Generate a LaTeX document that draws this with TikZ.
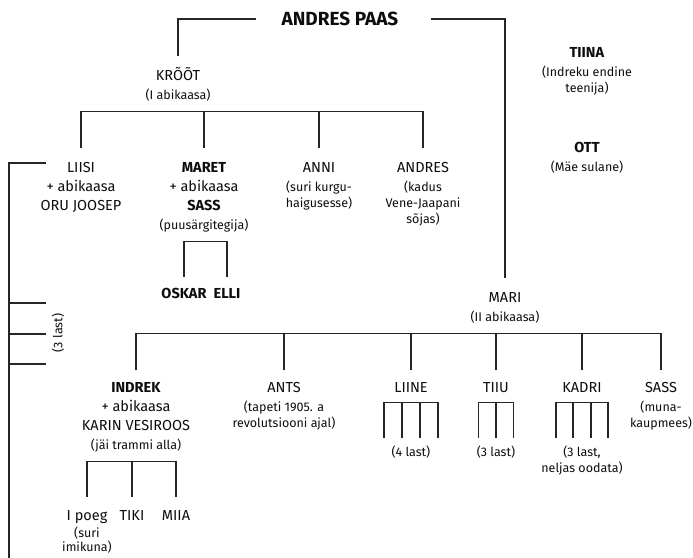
\documentclass[tikz,border=0pt]{standalone}
\usepackage{fontspec}
\setmainfont{Fira Sans}
\newcommand{\namesize}{\fontsize{14.5}{15.2}\selectfont}
\newcommand{\notesize}{\fontsize{12.5}{13}\selectfont}
\renewcommand{\arraystretch}{1.25}
\tikzset{
  person/.style={inner sep=0pt, anchor=base, font=\namesize, text=black!95},
  kids/.style={inner sep=0pt, anchor=base, font=\notesize, text=black!95},
  kin/.style={draw=black!85, line width=1.1pt},
}
\begin{document}
\begin{tikzpicture}[x=1pt,y=-1pt]
\path[use as bounding box, fill=white] (0,0) rectangle (693,557);

\node (paas) [person, anchor=center, font=\fontsize{19}{21}\selectfont\bfseries] at (340,19) {ANDRES PAAS};

\node (kroot) [person] at (178,80) {
\begin{tabular}[t]{c}
 KRÕÕT \\
 \notesize (I abikaasa)
\end{tabular}
};
\node (tiina) [person] at (587,57) {
\begin{tabular}[t]{c}
 \textbf{TIINA} \\
 \notesize (Indreku endine \\[-3pt]
 \notesize teenija)
\end{tabular}
};
\node (ott) [person] at (587,152) {
\begin{tabular}[t]{c}
 \textbf{OTT} \\
 \notesize (Mäe sulane)
\end{tabular}
};

\node (liisi) [person] at (81,172) {
\begin{tabular}[t]{c}
 LIISI \\
 + abikaasa \\
 ORU JOOSEP
\end{tabular}
};
\node (maret) [person] at (204,172) {
\begin{tabular}[t]{c}
 \textbf{MARET} \\
 + abikaasa \\
 \textbf{SASS} \\
 \notesize (puusärgitegija)
\end{tabular}
};
\node (anni) [person] at (319,172) {
\begin{tabular}[t]{c}
 ANNI \\
 \notesize (suri kurgu- \\[-3pt]
 \notesize haigusesse)
\end{tabular}
};
\node (andres) [person] at (423,172) {
\begin{tabular}[t]{c}
 ANDRES \\
 \notesize (kadus \\[-3pt]
 \notesize Vene-Jaapani \\[-3pt]
 \notesize sõjas)
\end{tabular}
};

\node (oskar) [person] at (184,298) {\begin{tabular}[t]{c} \textbf{OSKAR} \end{tabular}};
\node (elli) [person] at (227,298) {\begin{tabular}[t]{c} \textbf{ELLI} \end{tabular}};
\node (liisikids) [kids, anchor=center, rotate=90] at (58,333) {(3 last)};

\node (mari) [person] at (505,302) {
\begin{tabular}[t]{c}
 MARI \\
 \notesize (II abikaasa)
\end{tabular}
};

\node (indrek) [person] at (136,392) {
\begin{tabular}[t]{c}
 \textbf{INDREK} \\
 + abikaasa \\
 KARIN VESIROOS \\
 \notesize (jäi trammi alla)
\end{tabular}
};
\node (ants) [person] at (284,392) {
\begin{tabular}[t]{c}
 ANTS \\
 \notesize (tapeti 1905. a \\[-3pt]
 \notesize revolutsiooni ajal)
\end{tabular}
};
\node (liine) [person] at (411,392) {\begin{tabular}[t]{c} LIINE \end{tabular}};
\node (tiiu) [person] at (496,392) {\begin{tabular}[t]{c} TIIU \end{tabular}};
\node (kadri) [person] at (582,392) {\begin{tabular}[t]{c} KADRI \end{tabular}};
\node (sass) [person] at (661,392) {
\begin{tabular}[t]{c}
 SASS \\
 \notesize (muna- \\[-3pt]
 \notesize kaupmees)
\end{tabular}
};

\node (liinekids) [kids] at (411,456) {\begin{tabular}[t]{c} (4 last) \end{tabular}};
\node (tiiukids) [kids] at (496,456) {\begin{tabular}[t]{c} (3 last) \end{tabular}};
\node (kadrikids) [kids] at (582,456) {
\begin{tabular}[t]{c}
 (3 last, \\
 neljas oodata)
\end{tabular}
};

\node (poeg) [person] at (87,520) {
\begin{tabular}[t]{c}
 I poeg \\[-2pt]
 \notesize (suri \\[-5pt]
 \notesize imikuna)
\end{tabular}
};
\node (tiki) [person] at (132,520) {\begin{tabular}[t]{c} TIKI \end{tabular}};
\node (miia) [person] at (176,520) {\begin{tabular}[t]{c} MIIA \end{tabular}};

\coordinate (krootbar) at ([yshift=-7pt]kroot.south);
\coordinate (maretbar) at ([yshift=-7pt]maret.south);
\coordinate (maribar) at ([yshift=-7pt]mari.south);
\coordinate (indrekbar) at ([yshift=-6.5pt]indrek.south);
\coordinate (liinebar) at ([yshift=-4.5pt]liine.south);
\coordinate (tiiubar) at ([yshift=-4.5pt]tiiu.south);
\coordinate (kadribar) at ([yshift=-4.5pt]kadri.south);
\coordinate (liisiend) at (9,560);

\draw[kin] ([xshift=-84pt]paas.center) -| ([yshift=11pt]kroot.north);
\draw[kin] ([xshift=91pt]paas.center) -| ([yshift=11pt]mari.north);

\draw[kin] ([yshift=11pt]liisi.north) |- (krootbar -| andres.north) -- ([yshift=11pt]andres.north);
\foreach \c in {maret,anni}
  \draw[kin] (krootbar -| \c.north) -- ([yshift=11pt]\c.north);

\draw[kin] ([xshift=-35pt,yshift=9pt]liisi.base) -| (liisiend);
\foreach \y in {303,334,364}
  \draw[kin] (liisiend |- 0,\y) -- +(37,0);

\draw[kin] ([yshift=8pt]oskar.north) |- (maretbar -| elli.north) -- ([yshift=8pt]elli.north);

\draw[kin] ([yshift=8.5pt]indrek.north) |- (maribar -| sass.north) -- ([yshift=8.5pt]sass.north);
\foreach \c in {ants,liine,tiiu,kadri}
  \draw[kin] (maribar -| \c.north) -- ([yshift=8.5pt]\c.north);

\draw[kin] ([yshift=10pt]poeg.north) |- (indrekbar -| miia.north) -- ([yshift=10pt]miia.north);
\draw[kin] (indrekbar -| tiki.north) -- ([yshift=10pt]tiki.north);

\draw[kin] ([xshift=-27pt,yshift=6.5pt]liinekids.north) |- (liinebar) -| ([xshift=27pt,yshift=6.5pt]liinekids.north);
\foreach \dx in {-9,9}
  \draw[kin] ([xshift=\dx pt]liinebar) -- ([xshift=\dx pt,yshift=6.5pt]liinekids.north);

\draw[kin] ([xshift=-17.5pt,yshift=6.5pt]tiiukids.north) |- (tiiubar) -| ([xshift=17.5pt,yshift=6.5pt]tiiukids.north);
\draw[kin] (tiiubar) -- ([yshift=6.5pt]tiiukids.north);

\draw[kin] ([xshift=-26pt,yshift=6.5pt]kadrikids.north) |- (kadribar) -| ([xshift=26pt,yshift=6.5pt]kadrikids.north);
\foreach \dx in {-9,9}
  \draw[kin] ([xshift=\dx pt]kadribar) -- ([xshift=\dx pt,yshift=6.5pt]kadrikids.north);
\end{tikzpicture}
\end{document}
